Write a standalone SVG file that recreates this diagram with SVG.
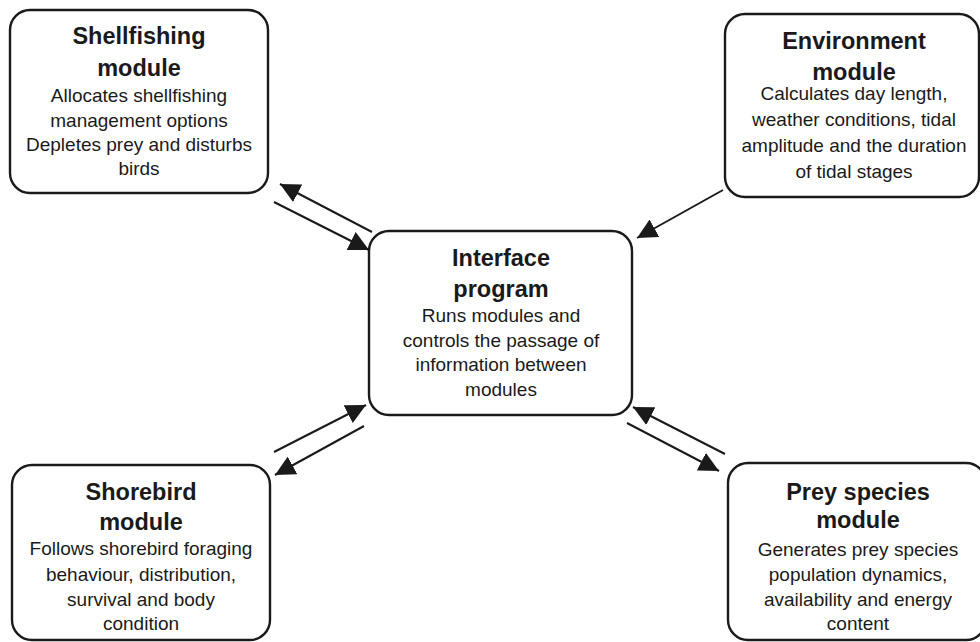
<svg xmlns="http://www.w3.org/2000/svg" width="980" height="642" viewBox="0 0 980 642">
  <style>
    .box { fill: #ffffff; stroke: #1a1a1a; stroke-width: 2.4; }
    .title { font-family: "Liberation Sans", Arial, sans-serif; font-weight: bold; font-size: 23.5px; fill: #1a1a1a; text-anchor: middle; }
    .body { font-family: "Liberation Sans", Arial, sans-serif; font-size: 19px; fill: #1a1a1a; text-anchor: middle; }
    .link { stroke: #1a1a1a; stroke-width: 2; fill: none; marker-end: url(#head); }
  </style>
  <defs>
    <marker id="head" markerUnits="userSpaceOnUse" markerWidth="22" markerHeight="20" refX="20" refY="10" orient="auto">
      <path d="M0,0 L20,10 L0,20 Z" fill="#1a1a1a"/>
    </marker>
  </defs>
  <rect width="980" height="642" fill="#ffffff"/>

  <!-- connectors between the interface program and each module -->
  <g id="connectors">
    <line class="link" x1="372" y1="232" x2="280" y2="184"/>
    <line class="link" x1="274" y1="202" x2="369" y2="250"/>
    <line class="link" x1="723" y1="190" x2="637" y2="238"/>
    <line class="link" x1="274" y1="452" x2="366" y2="405"/>
    <line class="link" x1="364" y1="426" x2="275" y2="475"/>
    <line class="link" x1="725" y1="454" x2="633" y2="407"/>
    <line class="link" x1="627" y1="423" x2="719" y2="471"/>
  </g>

  <g id="shellfishing">
    <rect class="box" x="10" y="10" width="258" height="183" rx="20"/>
    <text class="title" x="139" y="44">Shellfishing</text>
    <text class="title" x="139" y="76">module</text>
    <text class="body" x="139" y="102">Allocates shellfishing</text>
    <text class="body" x="139" y="127">management options</text>
    <text class="body" x="139" y="151">Depletes prey and disturbs</text>
    <text class="body" x="139" y="175">birds</text>
  </g>

  <g id="environment">
    <rect class="box" x="725" y="14" width="254" height="183" rx="20"/>
    <text class="title" x="854" y="49">Environment</text>
    <text class="title" x="854" y="80">module</text>
    <text class="body" x="854" y="100">Calculates day length,</text>
    <text class="body" x="854" y="126">weather conditions, tidal</text>
    <text class="body" x="854" y="152">amplitude and the duration</text>
    <text class="body" x="854" y="178">of tidal stages</text>
  </g>

  <g id="interface">
    <rect class="box" x="369" y="231" width="263" height="184" rx="20"/>
    <text class="title" x="501" y="266">Interface</text>
    <text class="title" x="501" y="297">program</text>
    <text class="body" x="501" y="322">Runs modules and</text>
    <text class="body" x="501" y="347">controls the passage of</text>
    <text class="body" x="501" y="371">information between</text>
    <text class="body" x="501" y="396">modules</text>
  </g>

  <g id="shorebird">
    <rect class="box" x="12" y="465" width="258" height="175" rx="20"/>
    <text class="title" x="141" y="500">Shorebird</text>
    <text class="title" x="141" y="530">module</text>
    <text class="body" x="141" y="555">Follows shorebird foraging</text>
    <text class="body" x="141" y="581">behaviour, distribution,</text>
    <text class="body" x="141" y="606">survival and body</text>
    <text class="body" x="141" y="630">condition</text>
  </g>

  <g id="prey">
    <rect class="box" x="728" y="463" width="258" height="177" rx="20"/>
    <text class="title" x="858" y="500">Prey species</text>
    <text class="title" x="858" y="528">module</text>
    <text class="body" x="858" y="556">Generates prey species</text>
    <text class="body" x="858" y="581">population dynamics,</text>
    <text class="body" x="858" y="606">availability and energy</text>
    <text class="body" x="858" y="630">content</text>
  </g>
</svg>
